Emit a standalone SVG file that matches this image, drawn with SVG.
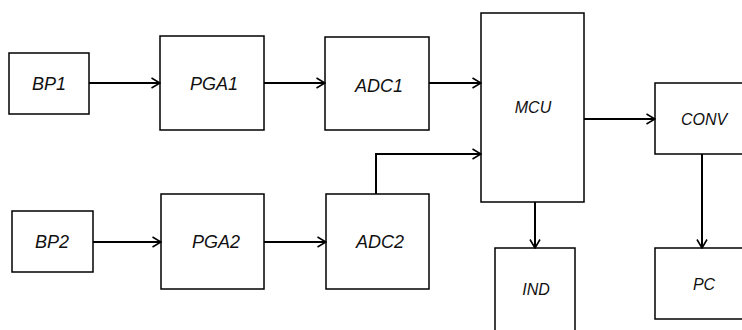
<svg xmlns="http://www.w3.org/2000/svg" width="742" height="330" viewBox="0 0 742 330">
<defs>
<marker id="arr" viewBox="0 0 10 12" refX="9.5" refY="6" markerWidth="10" markerHeight="12" markerUnits="userSpaceOnUse" orient="auto">
<path d="M1,1 L9.5,6 L1,11" fill="none" stroke="#000" stroke-width="1.6"/>
</marker>
<style>
.box{fill:#fff;stroke:#000;stroke-width:1.5}
.lbl{font-family:"Liberation Sans",Arial,sans-serif;font-style:italic;fill:#111;text-anchor:middle;dominant-baseline:central}
.big{font-size:18px}
.sm{font-size:16px}
.con{fill:none;stroke:#000;stroke-width:2;marker-end:url(#arr)}
</style>
</defs>
<rect width="742" height="330" fill="#fff"/>
<g id="BP1"><rect class="box" x="9" y="53" width="80" height="61"/><text class="lbl big" x="49" y="84">BP1</text></g>
<g id="PGA1"><rect class="box" x="160" y="36" width="104" height="94"/><text class="lbl big" x="214" y="84">PGA1</text></g>
<g id="ADC1"><rect class="box" x="325" y="37" width="104" height="93"/><text class="lbl big" x="379" y="86">ADC1</text></g>
<g id="MCU"><rect class="box" x="481" y="13" width="103" height="189"/><text class="lbl sm" x="533" y="107">MCU</text></g>
<g id="CONV"><rect class="box" x="655" y="83" width="95" height="71"/><text class="lbl sm" x="704" y="119">CONV</text></g>
<g id="IND"><rect class="box" x="495" y="248" width="80" height="90"/><text class="lbl sm" x="536" y="289">IND</text></g>
<g id="PC"><rect class="box" x="655" y="248" width="95" height="71"/><text class="lbl sm" x="704" y="284">PC</text></g>
<g id="BP2"><rect class="box" x="12" y="211" width="81" height="61"/><text class="lbl big" x="52" y="242">BP2</text></g>
<g id="PGA2"><rect class="box" x="161" y="194" width="103" height="95"/><text class="lbl big" x="216" y="242">PGA2</text></g>
<g id="ADC2"><rect class="box" x="326" y="194" width="103" height="95"/><text class="lbl big" x="380" y="242">ADC2</text></g>
<g id="connectors">
<path class="con" d="M89,83 H160"/>
<path class="con" d="M264,83 H325"/>
<path class="con" d="M429,83 H481"/>
<path class="con" d="M376,194 V154 H481"/>
<path class="con" d="M93,242 H161"/>
<path class="con" d="M264,242 H326"/>
<path class="con" d="M584,119 H655"/>
<path class="con" d="M535,202 V248"/>
<path class="con" d="M702,154 V248"/>
</g>
</svg>
